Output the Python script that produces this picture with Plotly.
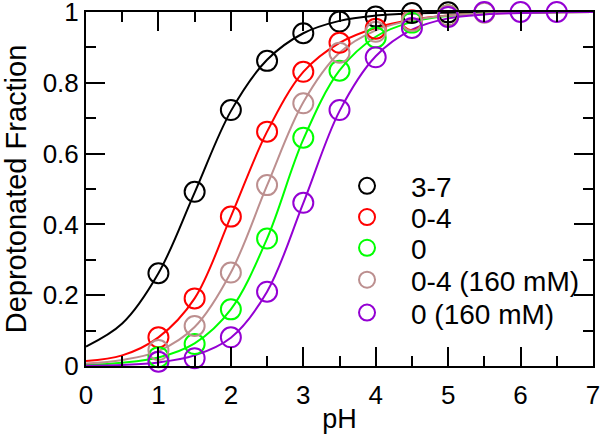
import plotly.graph_objects as go

# ---- data ----
names = ["3-7", "0-4", "0", "0-4 (160 mM)", "0 (160 mM)"]
colors = ["#000000", "#ff0000", "#00ff00", "#bc8f8f", "#9400d3"]

# measured points
ph_black = [1, 1.5, 2, 2.5, 3, 3.5, 4, 4.5, 5]
fr_black = [0.262, 0.492, 0.723, 0.862, 0.94, 0.973, 0.987, 0.997, 0.999]
ph_red = [1, 1.5, 2, 2.5, 3, 3.5, 4, 4.5, 5]
fr_red = [0.081, 0.191, 0.422, 0.662, 0.831, 0.913, 0.953, 0.977, 0.99]
ph_green = [1, 1.5, 2, 2.5, 3, 3.5, 4, 4.5, 5]
fr_green = [0.025, 0.062, 0.16, 0.36, 0.645, 0.834, 0.928, 0.97, 0.99]
ph_brown = [1, 1.5, 2, 2.5, 3, 3.5, 4, 4.5, 5, 5.5]
fr_brown = [0.045, 0.113, 0.264, 0.511, 0.742, 0.885, 0.944, 0.975, 0.99, 0.998]
ph_purple = [1, 1.5, 2, 2.5, 3, 3.5, 4, 4.5, 5, 5.5, 6, 6.5]
fr_purple = [0.012, 0.022, 0.081, 0.21, 0.461, 0.723, 0.872, 0.955, 0.986, 1.0, 1.0, 1.0]

# fitted curves
ph_fit = [0, 0.5, 1, 1.5, 2, 2.5, 3, 3.5, 4, 4.5, 5, 5.5, 6, 6.5, 7]
fit_black = [0.055, 0.12, 0.262, 0.49, 0.72, 0.865, 0.94, 0.975, 0.99, 0.996, 0.998, 0.999, 1.0, 1.0, 1.0]
fit_red = [0.014, 0.03, 0.081, 0.191, 0.422, 0.662, 0.831, 0.913, 0.955, 0.978, 0.99, 0.995, 0.998, 0.999, 1.0]
fit_green = [0.003, 0.009, 0.024, 0.064, 0.16, 0.36, 0.64, 0.835, 0.93, 0.972, 0.989, 0.996, 0.998, 0.999, 1.0]
fit_brown = [0.007, 0.017, 0.042, 0.11, 0.264, 0.51, 0.745, 0.885, 0.948, 0.977, 0.99, 0.996, 0.998, 0.999, 1.0]
fit_purple = [0.001, 0.003, 0.01, 0.03, 0.08, 0.21, 0.46, 0.72, 0.875, 0.95, 0.982, 0.993, 0.997, 0.999, 1.0]

x_ticks = [0, 1, 2, 3, 4, 5, 6, 7]
y_ticks = [0, 0.2, 0.4, 0.6, 0.8, 1]
y_labels = ["0", "0.2", "0.4", "0.6", "0.8", "1"]

points = [(ph_black, fr_black), (ph_red, fr_red), (ph_green, fr_green),
          (ph_brown, fr_brown), (ph_purple, fr_purple)]
fits = [fit_black, fit_red, fit_green, fit_brown, fit_purple]

# one single-entry legend per series so rows can sit at the reference spacing
legend_ids = ["legend", "legend2", "legend3", "legend4", "legend5"]
legend_rows_y = [0.508, 0.42, 0.333, 0.243, 0.150]   # paper-y of each legend row

fig = go.Figure()
for i in range(5):
    fig.add_trace(go.Scatter(
        x=ph_fit, y=fits[i], mode="lines",
        line=dict(color=colors[i], width=2, shape="spline", smoothing=1),
        showlegend=False, hoverinfo="skip", cliponaxis=True))
for i in range(5):
    px, py = points[i]
    fig.add_trace(go.Scatter(
        x=px, y=py, mode="markers", name=names[i], legend=legend_ids[i],
        marker=dict(symbol="circle-open", size=20, color=colors[i],
                    line=dict(width=2, color=colors[i])),
        cliponaxis=False))

font = dict(family="Liberation Sans, Arial, sans-serif", color="black")
legend_layout = {}
for i, lid in enumerate(legend_ids):
    legend_layout[lid] = dict(
        x=0.4675, y=legend_rows_y[i], xanchor="left", yanchor="middle",
        bgcolor="rgba(0,0,0,0)", borderwidth=0,
        font=dict(size=28, **font), itemwidth=78)

fig.update_layout(
    width=600, height=434,
    margin=dict(l=86, r=7, t=12, b=68, autoexpand=False),
    paper_bgcolor="white", plot_bgcolor="white",
    font=dict(size=26, **font),
    showlegend=True,
    **legend_layout,
    xaxis=dict(range=[0, 7], tickvals=x_ticks, ticktext=[str(v) for v in x_ticks],
               ticks="inside", ticklen=19, tickwidth=2, tickcolor="black",
               showline=True, linewidth=2, linecolor="black", mirror="ticks",
               showgrid=False, zeroline=False, ticklabeloverflow="allow",
               ticklabelstandoff=5,
               minor=dict(dtick=0.5, ticks="inside", ticklen=10, tickwidth=2,
                          tickcolor="black", showgrid=False),
               tickfont=dict(size=26, **font),
               title=dict(text="pH", font=dict(size=27, **font), standoff=4)),
    yaxis=dict(range=[0, 1], tickvals=y_ticks, ticktext=y_labels,
               ticks="inside", ticklen=19, tickwidth=2, tickcolor="black",
               showline=True, linewidth=2, linecolor="black", mirror="ticks",
               showgrid=False, zeroline=False, ticklabeloverflow="allow",
               minor=dict(dtick=0.1, ticks="inside", ticklen=10, tickwidth=2,
                          tickcolor="black", showgrid=False),
               tickfont=dict(size=26, **font),
               title=dict(text="Deprotonated Fraction", font=dict(size=29, **font), standoff=23)),
)
fig.write_html("out.html", config={"displayModeBar": False},
               post_script="document.body.style.margin='0';document.body.style.overflow='hidden';")
